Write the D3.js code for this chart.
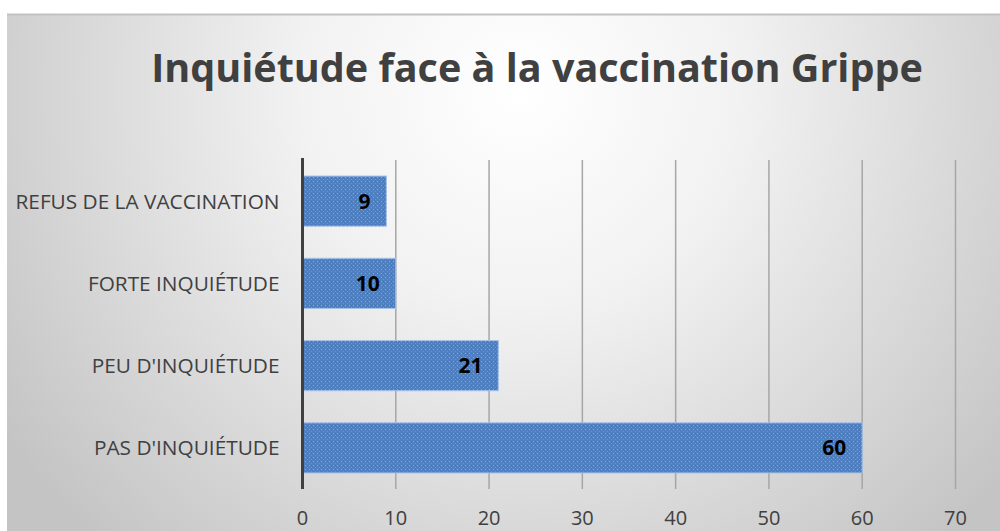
<!DOCTYPE html>
<html>
<head>
<meta charset="utf-8">
<script src="https://cdn.jsdelivr.net/npm/d3@7"></script>
<style>
  body { margin: 0; background: #fff; }
  svg { display: block; }
</style>
</head>
<body>
<div id="chart"></div>
<script>
// data
var categories = ["REFUS DE LA VACCINATION", "FORTE INQUIÉTUDE", "PEU D'INQUIÉTUDE", "PAS D'INQUIÉTUDE"];
var values = [9, 10, 21, 60];
var ticks = [0, 10, 20, 30, 40, 50, 60, 70];
var title = "Inquiétude face à la vaccination Grippe";

var W = 1000, H = 531;
var margin = {top: 160, left: 302.5, right: 44.5, bottom: 42};

var svg = d3.select("#chart").append("svg")
    .attr("width", W)
    .attr("height", H);

var defs = svg.append("defs");

// background gradient
var grad = defs.append("radialGradient")
    .attr("id", "bg")
    .attr("gradientUnits", "userSpaceOnUse")
    .attr("cx", 520).attr("cy", 90)
    .attr("r", 620);
grad.append("stop").attr("offset", "0%").attr("stop-color", "#ffffff");
grad.append("stop").attr("offset", "35%").attr("stop-color", "#f2f2f2");
grad.append("stop").attr("offset", "100%").attr("stop-color", "#c4c4c4");

// dotted bar texture
var pat = defs.append("pattern")
    .attr("id", "barpat")
    .attr("patternUnits", "userSpaceOnUse")
    .attr("width", 4).attr("height", 4);
pat.append("rect").attr("width", 4).attr("height", 4).attr("fill", "#4e80c2");
pat.append("rect").attr("x", 1).attr("y", 1).attr("width", 1).attr("height", 1).attr("fill", "#86a9da");
pat.append("rect").attr("x", 3).attr("y", 3).attr("width", 1).attr("height", 1).attr("fill", "#6c95cf");
pat.append("rect").attr("x", 3).attr("y", 1).attr("width", 1).attr("height", 1).attr("fill", "#4374b6");

// chart area
svg.append("rect")
    .attr("x", 7).attr("y", 14)
    .attr("width", W - 7).attr("height", H - 14)
    .attr("fill", "url(#bg)");
svg.append("line")
    .attr("x1", 7).attr("x2", W)
    .attr("y1", 14.5).attr("y2", 14.5)
    .attr("stroke", "#c2c2c2").attr("stroke-width", 2);

// title
var t = svg.append("text")
    .attr("x", 537).attr("y", 82)
    .attr("text-anchor", "middle")
    .style("font-family", "'Open Sans', sans-serif")
    .style("font-weight", "bold")
    .style("font-size", "41px")
    .attr("fill", "#404040")
    .text(title);
// fit the title width to the reference
var tw = t.node().getComputedTextLength();
t.style("font-size", (41 * 772 / tw) + "px");

var x = d3.scaleLinear()
    .domain([0, 70])
    .range([margin.left, margin.left + 653]);

var y = d3.scaleBand()
    .domain(categories)
    .range([margin.top, H - margin.bottom])
    .paddingInner(0.39)
    .paddingOuter(0.195);

// grid lines
svg.append("g")
  .selectAll("line")
  .data(ticks.slice(1))
  .enter()
  .append("line")
    .attr("x1", function(d) { return x(d); })
    .attr("x2", function(d) { return x(d); })
    .attr("y1", margin.top)
    .attr("y2", H - margin.bottom)
    .attr("stroke", "#a6a6a6")
    .attr("stroke-width", 1.5);

// bars
svg.append("g")
  .selectAll("rect")
  .data(values)
  .enter()
  .append("rect")
    .attr("x", x(0))
    .attr("y", function(d, i) { return y(categories[i]); })
    .attr("width", function(d) { return x(d) - x(0); })
    .attr("height", y.bandwidth())
    .attr("fill", "url(#barpat)")
    .attr("stroke", "#a8c2e6")
    .attr("stroke-width", 1);

// value labels
svg.append("g")
  .selectAll("text")
  .data(values)
  .enter()
  .append("text")
    .attr("x", function(d) { return x(d) - 16; })
    .attr("y", function(d, i) { return y(categories[i]) + y.bandwidth() / 2; })
    .attr("dy", "0.36em")
    .attr("text-anchor", "end")
    .style("font-family", "'Open Sans', sans-serif")
    .style("font-weight", "bold")
    .style("font-size", "21px")
    .attr("fill", "#000")
    .text(function(d) { return d; });

// y axis line
svg.append("line")
    .attr("x1", x(0)).attr("x2", x(0))
    .attr("y1", margin.top - 2)
    .attr("y2", H - margin.bottom)
    .attr("stroke", "#404040")
    .attr("stroke-width", 3);

// category labels
svg.append("g")
  .selectAll("text")
  .data(categories)
  .enter()
  .append("text")
    .attr("x", x(0) - 23)
    .attr("y", function(d) { return y(d) + y.bandwidth() / 2; })
    .attr("dy", "0.36em")
    .attr("text-anchor", "end")
    .style("font-family", "'Open Sans', sans-serif")
    .style("font-size", "20.8px")
    .attr("fill", "#404040")
    .text(function(d) { return d; });

// tick labels
svg.append("g")
  .selectAll("text")
  .data(ticks)
  .enter()
  .append("text")
    .attr("x", function(d) { return x(d); })
    .attr("y", 525)
    .attr("text-anchor", "middle")
    .style("font-family", "'Open Sans', sans-serif")
    .style("font-size", "20px")
    .attr("fill", "#404040")
    .text(function(d) { return d; });
</script>
</body>
</html>
